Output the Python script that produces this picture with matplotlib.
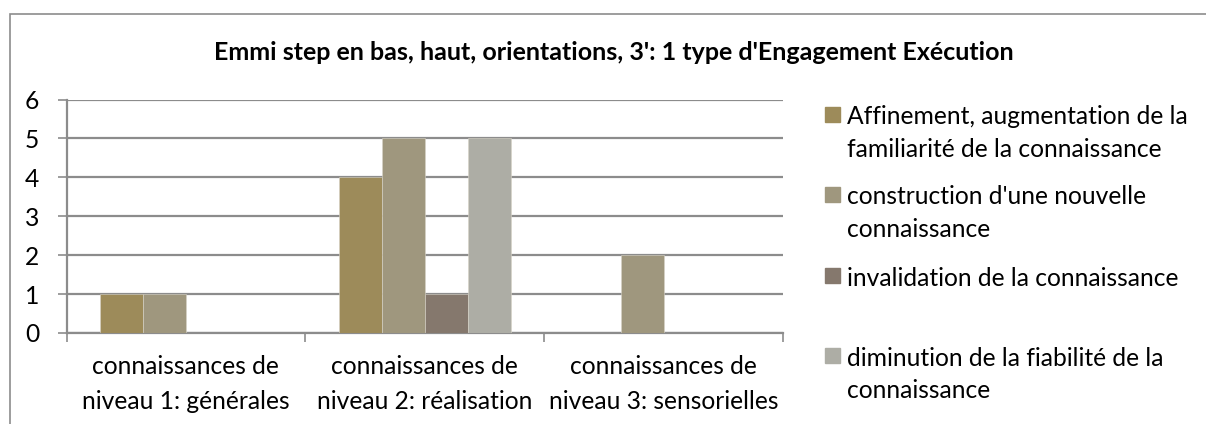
import numpy as np
import matplotlib.pyplot as plt
from matplotlib.patches import Rectangle

plt.rcParams['font.family'] = ['Lato', 'DejaVu Sans']

title = "Emmi step en bas, haut, orientations, 3': 1 type d'Engagement Exécution"
categories = ["connaissances de\nniveau 1: générales",
              "connaissances de\nniveau 2: réalisation",
              "connaissances de\nniveau 3: sensorielles"]
series_names = ["Affinement, augmentation de la\nfamiliarité de la connaissance",
                "construction d'une nouvelle\nconnaissance",
                "invalidation de la connaissance",
                "diminution de la fiabilité de la\nconnaissance"]
affinement = [1, 4, 0]
construction = [1, 5, 2]
invalidation = [0, 1, 0]
diminution = [0, 5, 0]
values = [affinement, construction, invalidation, diminution]
colors = ['#9D8B5A', '#9F977E', '#85786D', '#ADADA5']

W, H = 1206, 424
fig = plt.figure(figsize=(W / 100, H / 100), dpi=100)
ax = fig.add_axes([66.5 / W, 1 - 333 / H, (783 - 66.5) / W, (333 - 99.5) / H])

x = np.arange(len(categories))
bw = 0.18
for i, vals in enumerate(values):
    ax.bar(x + (i - 1.5) * bw, vals, bw, color=colors[i], zorder=3,
           edgecolor='#D8D4C8', linewidth=0.4)

ax.set_xlim(-0.5, 2.5)
ax.set_ylim(0, 6)
ax.set_yticks(range(7))
ax.yaxis.grid(True, color='#8C8C8C', linewidth=1.6, zorder=0)
ax.set_xticks(x)
ax.set_xticklabels(categories, fontsize=17.7, linespacing=1.6)
ax.set_xticks([-0.5, 0.5, 1.5, 2.5], minor=True)
ax.tick_params(axis='x', which='major', length=0, pad=16)
ax.tick_params(axis='x', which='minor', length=6.5, width=1.2, color='#8C8C8C')
ax.tick_params(axis='y', length=6.5, width=1.2, color='#8C8C8C', labelsize=17.7, pad=13)
for s in ['top', 'right']:
    ax.spines[s].set_visible(False)
for s in ['left', 'bottom']:
    ax.spines[s].set_color('#8C8C8C')
    ax.spines[s].set_linewidth(1.6)

fig.text(614 / W, 1 - 52 / H, title, ha='center', va='center',
         fontsize=18, fontweight='bold')

# legend drawn by hand to keep Excel-like spacing
tops = [115, 195, 276, 356]
for i, name in enumerate(series_names):
    yc = 1 - tops[i] / H
    fig.patches.append(Rectangle((825 / W, yc - 7 / H), 15 / W, 15 / H,
                                 transform=fig.transFigure, color=colors[i]))
    fig.text(847 / W, yc, name.split('\n')[0], ha='left', va='center_baseline',
             fontsize=17.7)
    if '\n' in name:
        fig.text(847 / W, yc - 32.5 / H, name.split('\n')[1], ha='left',
                 va='center_baseline', fontsize=17.7)

fig.patches.append(Rectangle((10 / W, -0.05), 1.1, 1 - 14 / H + 0.05,
                             transform=fig.transFigure, fill=False,
                             edgecolor='#8C8C8C', linewidth=1.2))

fig.savefig('out.png', dpi=100)
